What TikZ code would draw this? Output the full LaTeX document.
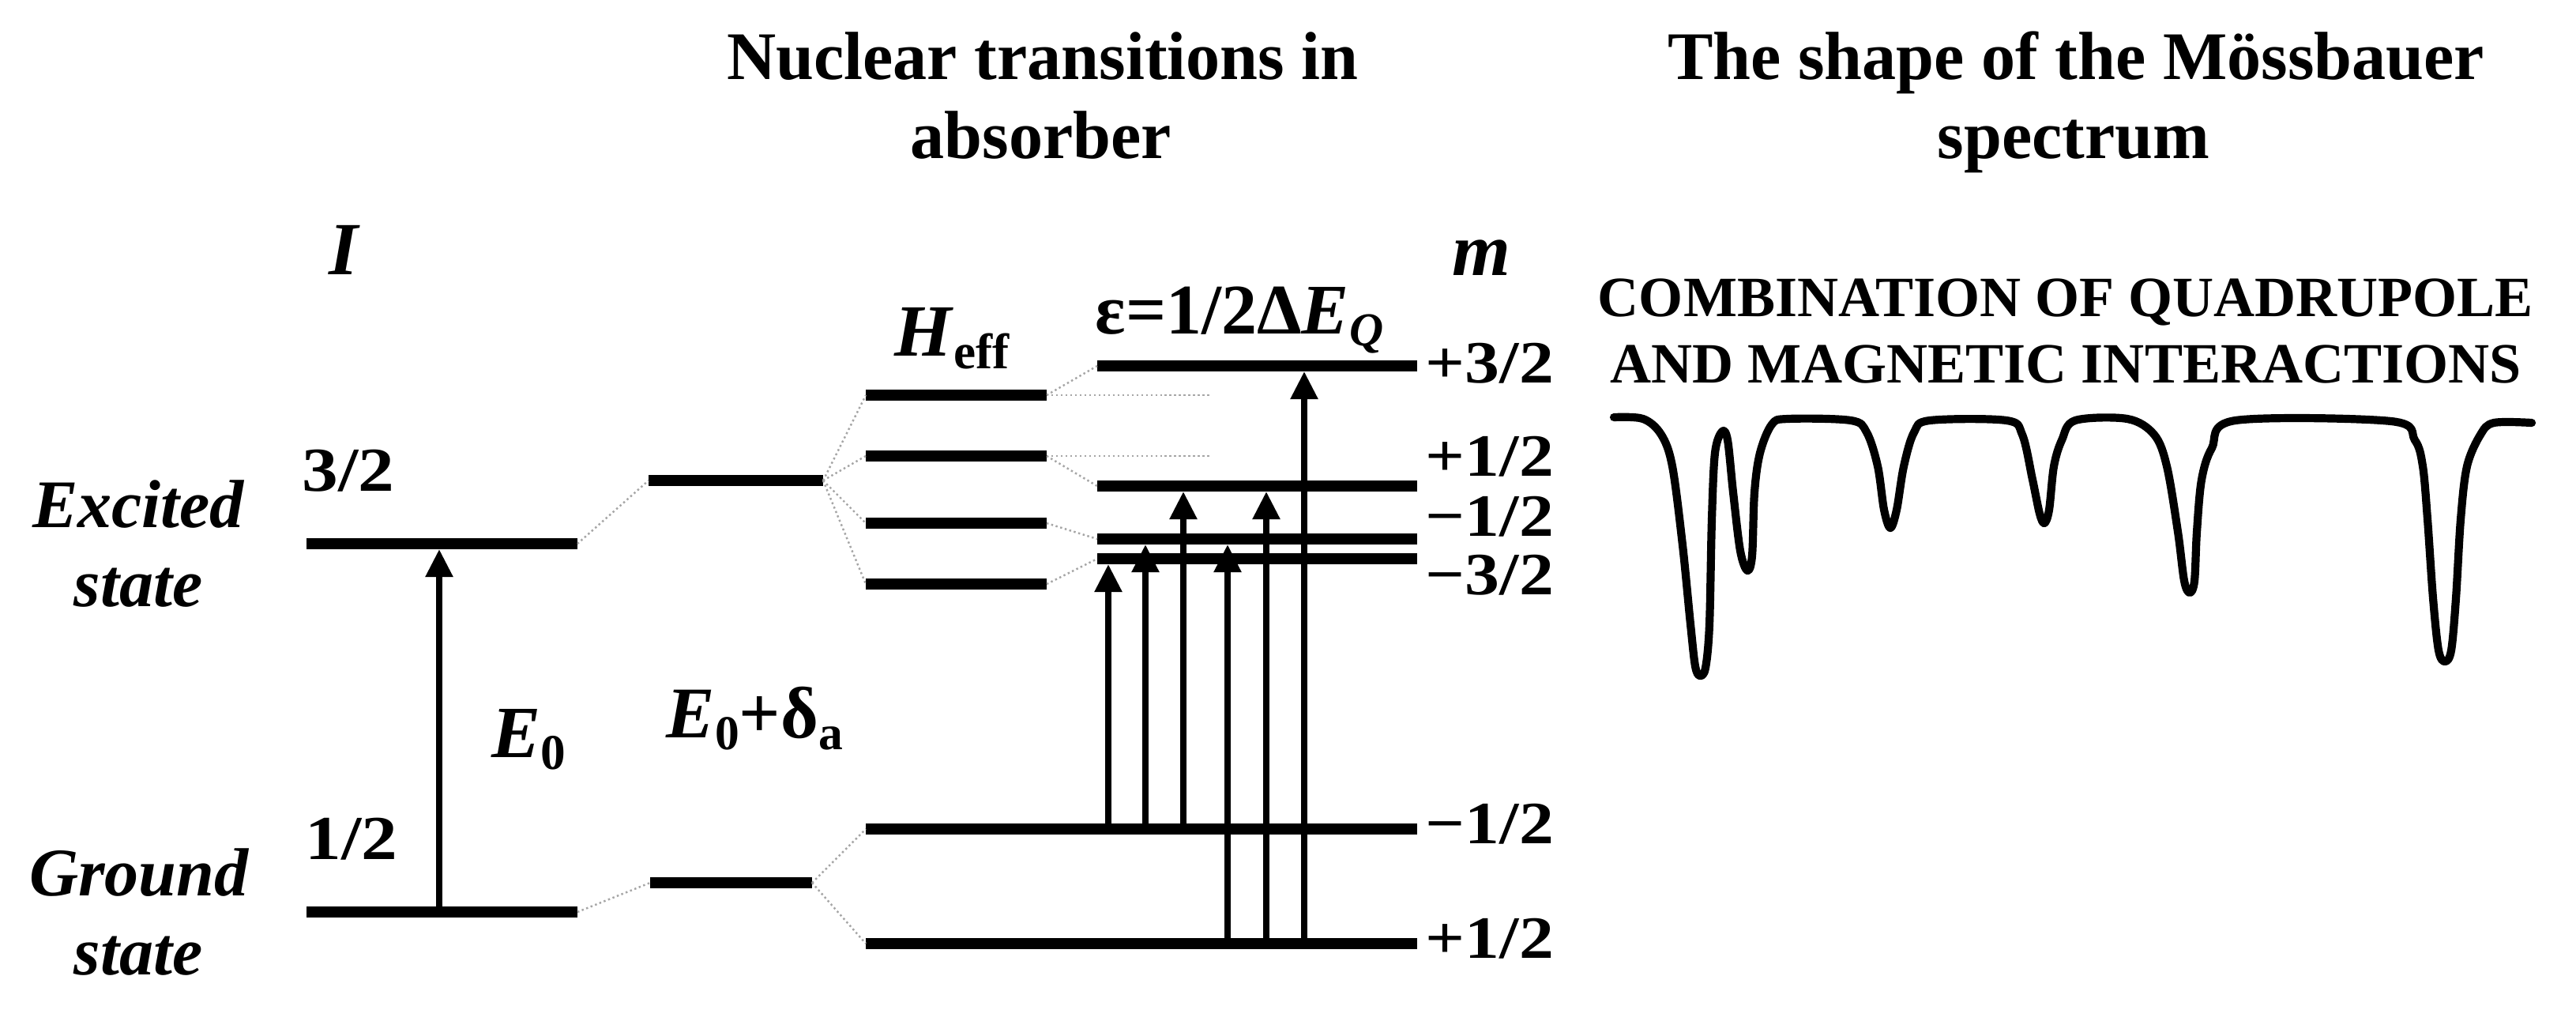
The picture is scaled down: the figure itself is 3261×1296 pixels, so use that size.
\documentclass[tikz,border=0pt]{standalone}
\usepackage{fontspec}
\usepackage{graphicx}
\setmainfont{Liberation Serif}
\usetikzlibrary{arrows.meta}
\newcommand{\sqz}[1]{\scalebox{1.04}[0.9]{#1}}
\begin{document}
\begin{tikzpicture}[x=0.01cm,y=-0.01cm,
  level/.style={line width=3.9pt},
  conn/.style={gray!70, line width=0.7pt, densely dotted},
  trans/.style={line width=2.2pt, -{Triangle[length=10pt,width=9.5pt]}},
  txt/.style={inner sep=0pt, anchor=base},
  titlef/.style={txt, font=\fontsize{24.5}{28}\selectfont\bfseries},
  capf/.style={txt, font=\fontsize{20.5}{24}\selectfont\bfseries},
  bigit/.style={txt, font=\fontsize{27}{30}\selectfont\bfseries\itshape},
  stat/.style={txt, font=\fontsize{24.5}{28}\selectfont\bfseries\itshape},
  mlab/.style={inner sep=0pt, anchor=base west, font=\fontsize{24}{26}\selectfont\bfseries},
  elab/.style={inner sep=0pt, anchor=base west, font=\fontsize{26.5}{30}\selectfont\bfseries},
  spec/.style={line width=2.9pt, line join=round, line cap=round}
]
\useasboundingbox (0,0) rectangle (3261,1296);

% titles
\node[titlef] (t1a) at (1320,100) {Nuclear transitions in};
\node[titlef] (t1b) at (1318,200) {absorber};
\node[titlef] (t2a) at (2628,100) {The shape of the Mössbauer};
\node[titlef] (t2b) at (2625,200) {spectrum};

% column labels
\node[bigit] (lI) at (435,347) {I};
\node[bigit] (lm) at (1875,348) {m};
\node[stat] (lexc) at (175,667) {Excited};
\node[stat] (lexs) at (175,767) {state};
\node[stat] (lgrd) at (176,1133) {Ground};
\node[stat] (lgrs) at (175,1233) {state};
\node[mlab, font=\fontsize{25}{28}\selectfont\bfseries] (l32) at (382,621) {\sqz{3/2}};
\node[mlab, font=\fontsize{25}{28}\selectfont\bfseries] (l12) at (386,1087) {\sqz{1/2}};

% level coordinates
\coordinate (exA) at (388,688);  \coordinate (exB) at (731,688);
\coordinate (gdA) at (388,1154); \coordinate (gdB) at (731,1154);
\coordinate (mexA) at (821,608); \coordinate (mexB) at (1042,608);
\coordinate (mgdA) at (823,1117); \coordinate (mgdB) at (1028,1117);
\foreach \n/\y in {1/500,2/577,3/662,4/739}{
  \coordinate (h\n A) at (1096,\y); \coordinate (h\n B) at (1325,\y);}
\foreach \n/\y in {1/463,2/615,3/682,4/707}{
  \coordinate (r\n A) at (1389,\y); \coordinate (r\n B) at (1794,\y);}
\coordinate (g1A) at (1096,1049); \coordinate (g1B) at (1794,1049);
\coordinate (g2A) at (1096,1194); \coordinate (g2B) at (1794,1194);
\coordinate (d1) at (1532,500); \coordinate (d2) at (1532,577);

% levels
\foreach \a/\b in {exA/exB,gdA/gdB,mexA/mexB,mgdA/mgdB,h1A/h1B,h2A/h2B,h3A/h3B,h4A/h4B,r1A/r1B,r2A/r2B,r3A/r3B,r4A/r4B,g1A/g1B,g2A/g2B}
  \draw[level] (\a) -- (\b);

% dotted connectors
\draw[conn] (exB) -- (mexA);
\draw[conn] (gdB) -- (mgdA);
\foreach \n in {1,2,3,4} \draw[conn] (mexB) -- (h\n A);
\draw[conn] (mgdB) -- (g1A);
\draw[conn] (mgdB) -- (g2A);
\foreach \n in {1,2,3,4} \draw[conn] (h\n B) -- (r\n A);
\draw[conn] (h1B) -- (d1);
\draw[conn] (h2B) -- (d2);

% transitions
\coordinate (e0s) at (556,1154); \coordinate (e0e) at (556,695);
\draw[trans] (e0s) -- (e0e);
\coordinate (a1s) at (1403,1049); \coordinate (a1e) at (1403,714);
\coordinate (a2s) at (1450,1049); \coordinate (a2e) at (1450,689);
\coordinate (a3s) at (1498,1049); \coordinate (a3e) at (1498,622);
\coordinate (a4s) at (1554,1194); \coordinate (a4e) at (1554,689);
\coordinate (a5s) at (1603,1194); \coordinate (a5e) at (1603,622);
\coordinate (a6s) at (1651,1194); \coordinate (a6e) at (1651,470);
\foreach \i in {1,...,6} \draw[trans] (a\i s) -- (a\i e);

% energy labels
\node[elab] (lE0) at (622,958) {\textit{E}\raisebox{-4.3pt}{\fontsize{18}{20}\selectfont 0}};
\node[elab, font=\fontsize{26.2}{30}\selectfont\bfseries] (lE0d) at (843,933)
  {\textit{E}\raisebox{-4.3pt}{\fontsize{17.5}{20}\selectfont 0}+δ\raisebox{-4.3pt}{\fontsize{17.5}{20}\selectfont a}};
\node[elab] (lH) at (1132,450) {\textit{H}\raisebox{-4.8pt}{\fontsize{18}{20}\selectfont eff}};
\node[elab, font=\fontsize{25.6}{30}\selectfont\bfseries] (leps) at (1386,422)
  {ε=1/2Δ\textit{E}\raisebox{-4.3pt}{\fontsize{17}{20}\selectfont\itshape Q}};

% m labels
\node[mlab] (m1) at (1804,484) {\sqz{+3/2}};
\node[mlab] (m2) at (1804,602) {\sqz{+1/2}};
\node[mlab] (m3) at (1804,678) {\sqz{−1/2}};
\node[mlab] (m4) at (1804,752) {\sqz{−3/2}};
\node[mlab] (m5) at (1804,1067) {\sqz{−1/2}};
\node[mlab] (m6) at (1804,1212) {\sqz{+1/2}};

% spectrum caption
\node[capf] (c1) at (2615,400) {COMBINATION OF QUADRUPOLE};
\node[capf] (c2) at (2615,484) {AND MAGNETIC INTERACTIONS};

% spectrum
\draw[spec] plot[smooth, tension=0.55] coordinates {
 (2043,528) (2080,530) (2103,550) (2117,590) (2130,690) (2140,790) (2146,843) (2152,855) (2159,845) (2164,790) (2167,657) (2171,573) (2180,546) (2187,557) (2194,623) (2203,697) (2212,722) (2218,703) (2221,623) (2228,573) (2243,537) (2263,530)
 (2343,532) (2363,547) (2377,590) (2385,645) (2393,668) (2401,645) (2410,590) (2423,547) (2443,532)
 (2540,532) (2560,550) (2573,607) (2582,650) (2588,662) (2594,645) (2600,590) (2610,557) (2627,532)
 (2693,530) (2727,550) (2743,590) (2757,673) (2765,735) (2772,750) (2778,735) (2781,673) (2787,607) (2800,567) (2830,532)
 (3027,533) (3057,557) (3067,590) (3073,657) (3080,757) (3087,823) (3095,837) (3103,823) (3109,757) (3115,657) (3123,590) (3140,550) (3157,535) (3205,535)};
\end{tikzpicture}
\end{document}
